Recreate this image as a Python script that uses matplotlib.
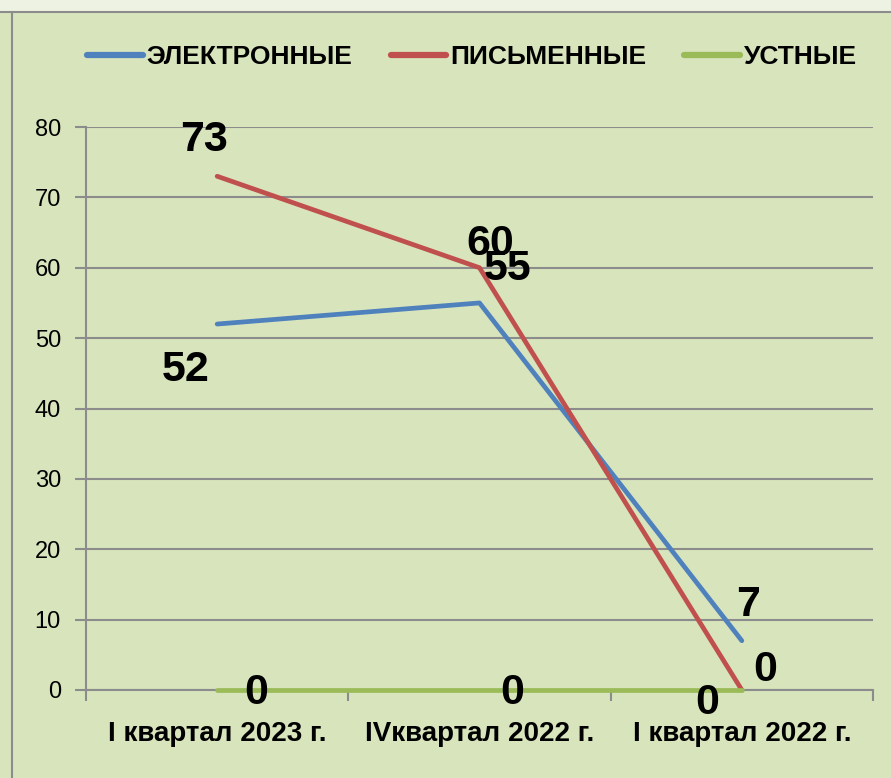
import matplotlib
import matplotlib.pyplot as plt
from matplotlib.lines import Line2D
from matplotlib.patches import Rectangle

matplotlib.use("Agg")

plt.rcParams["font.family"] = ["Liberation Sans", "DejaVu Sans"]

quarters = ["I квартал 2023 г.", "IVквартал 2022 г.", "I квартал 2022 г."]
electronic = [52, 55, 7]
written = [73, 60, 0]
oral = [0, 0, 0]

series_names = ["ЭЛЕКТРОННЫЕ", "ПИСЬМЕННЫЕ", "УСТНЫЕ"]
colors = ["#4f81bd", "#c0504d", "#9bbb59"]

# label offsets in pixels, tuned against the reference
offsets = [
    [(-31, -46), (28, 34), (6, 36)],
    [(-13, 36), (11, 24), (23, 20)],
    [(39, -3), (33, -3), (-35, -13)],
]

W, H = 891, 778
fig = plt.figure(figsize=(W / 100, H / 100), dpi=100)
fig.patch.set_facecolor("#d8e4bc")

# top strip and frame lines
fig.patches.append(Rectangle((0, 1 - 12 / H), 1, 12 / H, transform=fig.transFigure,
                             facecolor="#eef2e2", edgecolor="none", zorder=0))
fig.add_artist(Line2D([0, 1], [1 - 12 / H] * 2, transform=fig.transFigure, color="#8c8c8c", lw=1.5))
fig.add_artist(Line2D([12 / W] * 2, [0, 1 - 12 / H], transform=fig.transFigure, color="#8c8c8c", lw=1.5))

ax = fig.add_axes([86 / W, 1 - 690 / H, (873 - 86) / W, (690 - 127) / H])
ax.set_facecolor("none")

x = list(range(len(quarters)))
all_series = [electronic, written, oral]
for vals, name, col in zip(all_series, series_names, colors):
    ax.plot(x, vals, color=col, lw=3.4, solid_capstyle="round", solid_joinstyle="round",
            label=name, zorder=3, clip_on=False)

for vals, offs in zip(all_series, offsets):
    for xi, v, off in zip(x, vals, offs):
        ax.annotate(str(v), (xi, v), xytext=off, textcoords="offset pixels",
                    ha="center", va="center", fontsize=31, fontweight="bold",
                    color="black", zorder=5, annotation_clip=False)

ax.set_xlim(-0.5, 2.5)
ax.set_ylim(0, 80)
ax.set_yticks(range(0, 81, 10))
ax.yaxis.grid(True, color="#8c8c8c", lw=1.5)
ax.set_axisbelow(True)
ax.set_xticks([-0.5, 0.5, 1.5, 2.5])
ax.set_xticklabels([])
ax.set_xticks(x, minor=True)
ax.set_xticklabels(quarters, minor=True, fontsize=20, fontweight="bold")
ax.tick_params(axis="x", which="minor", length=0, pad=22)
ax.tick_params(axis="x", which="major", length=8, width=1.5, color="#8c8c8c", direction="out")
ax.tick_params(axis="y", length=8, width=1.5, color="#8c8c8c", labelsize=17, pad=10)

for s in ["top", "right"]:
    ax.spines[s].set_visible(False)
for s in ["left", "bottom"]:
    ax.spines[s].set_color("#8c8c8c")
    ax.spines[s].set_linewidth(1.5)

handles = [Line2D([0], [0], color=c, lw=4.5, solid_capstyle="round") for c in colors]
fig.legend(handles, series_names, loc="center", bbox_to_anchor=(472 / W, 1 - 57 / H), ncol=3,
           frameon=False, prop={"size": 19, "weight": "bold"}, handlelength=2.1,
           handletextpad=0.15, columnspacing=1.45)

fig.savefig("out.png", dpi=100, facecolor=fig.get_facecolor())
